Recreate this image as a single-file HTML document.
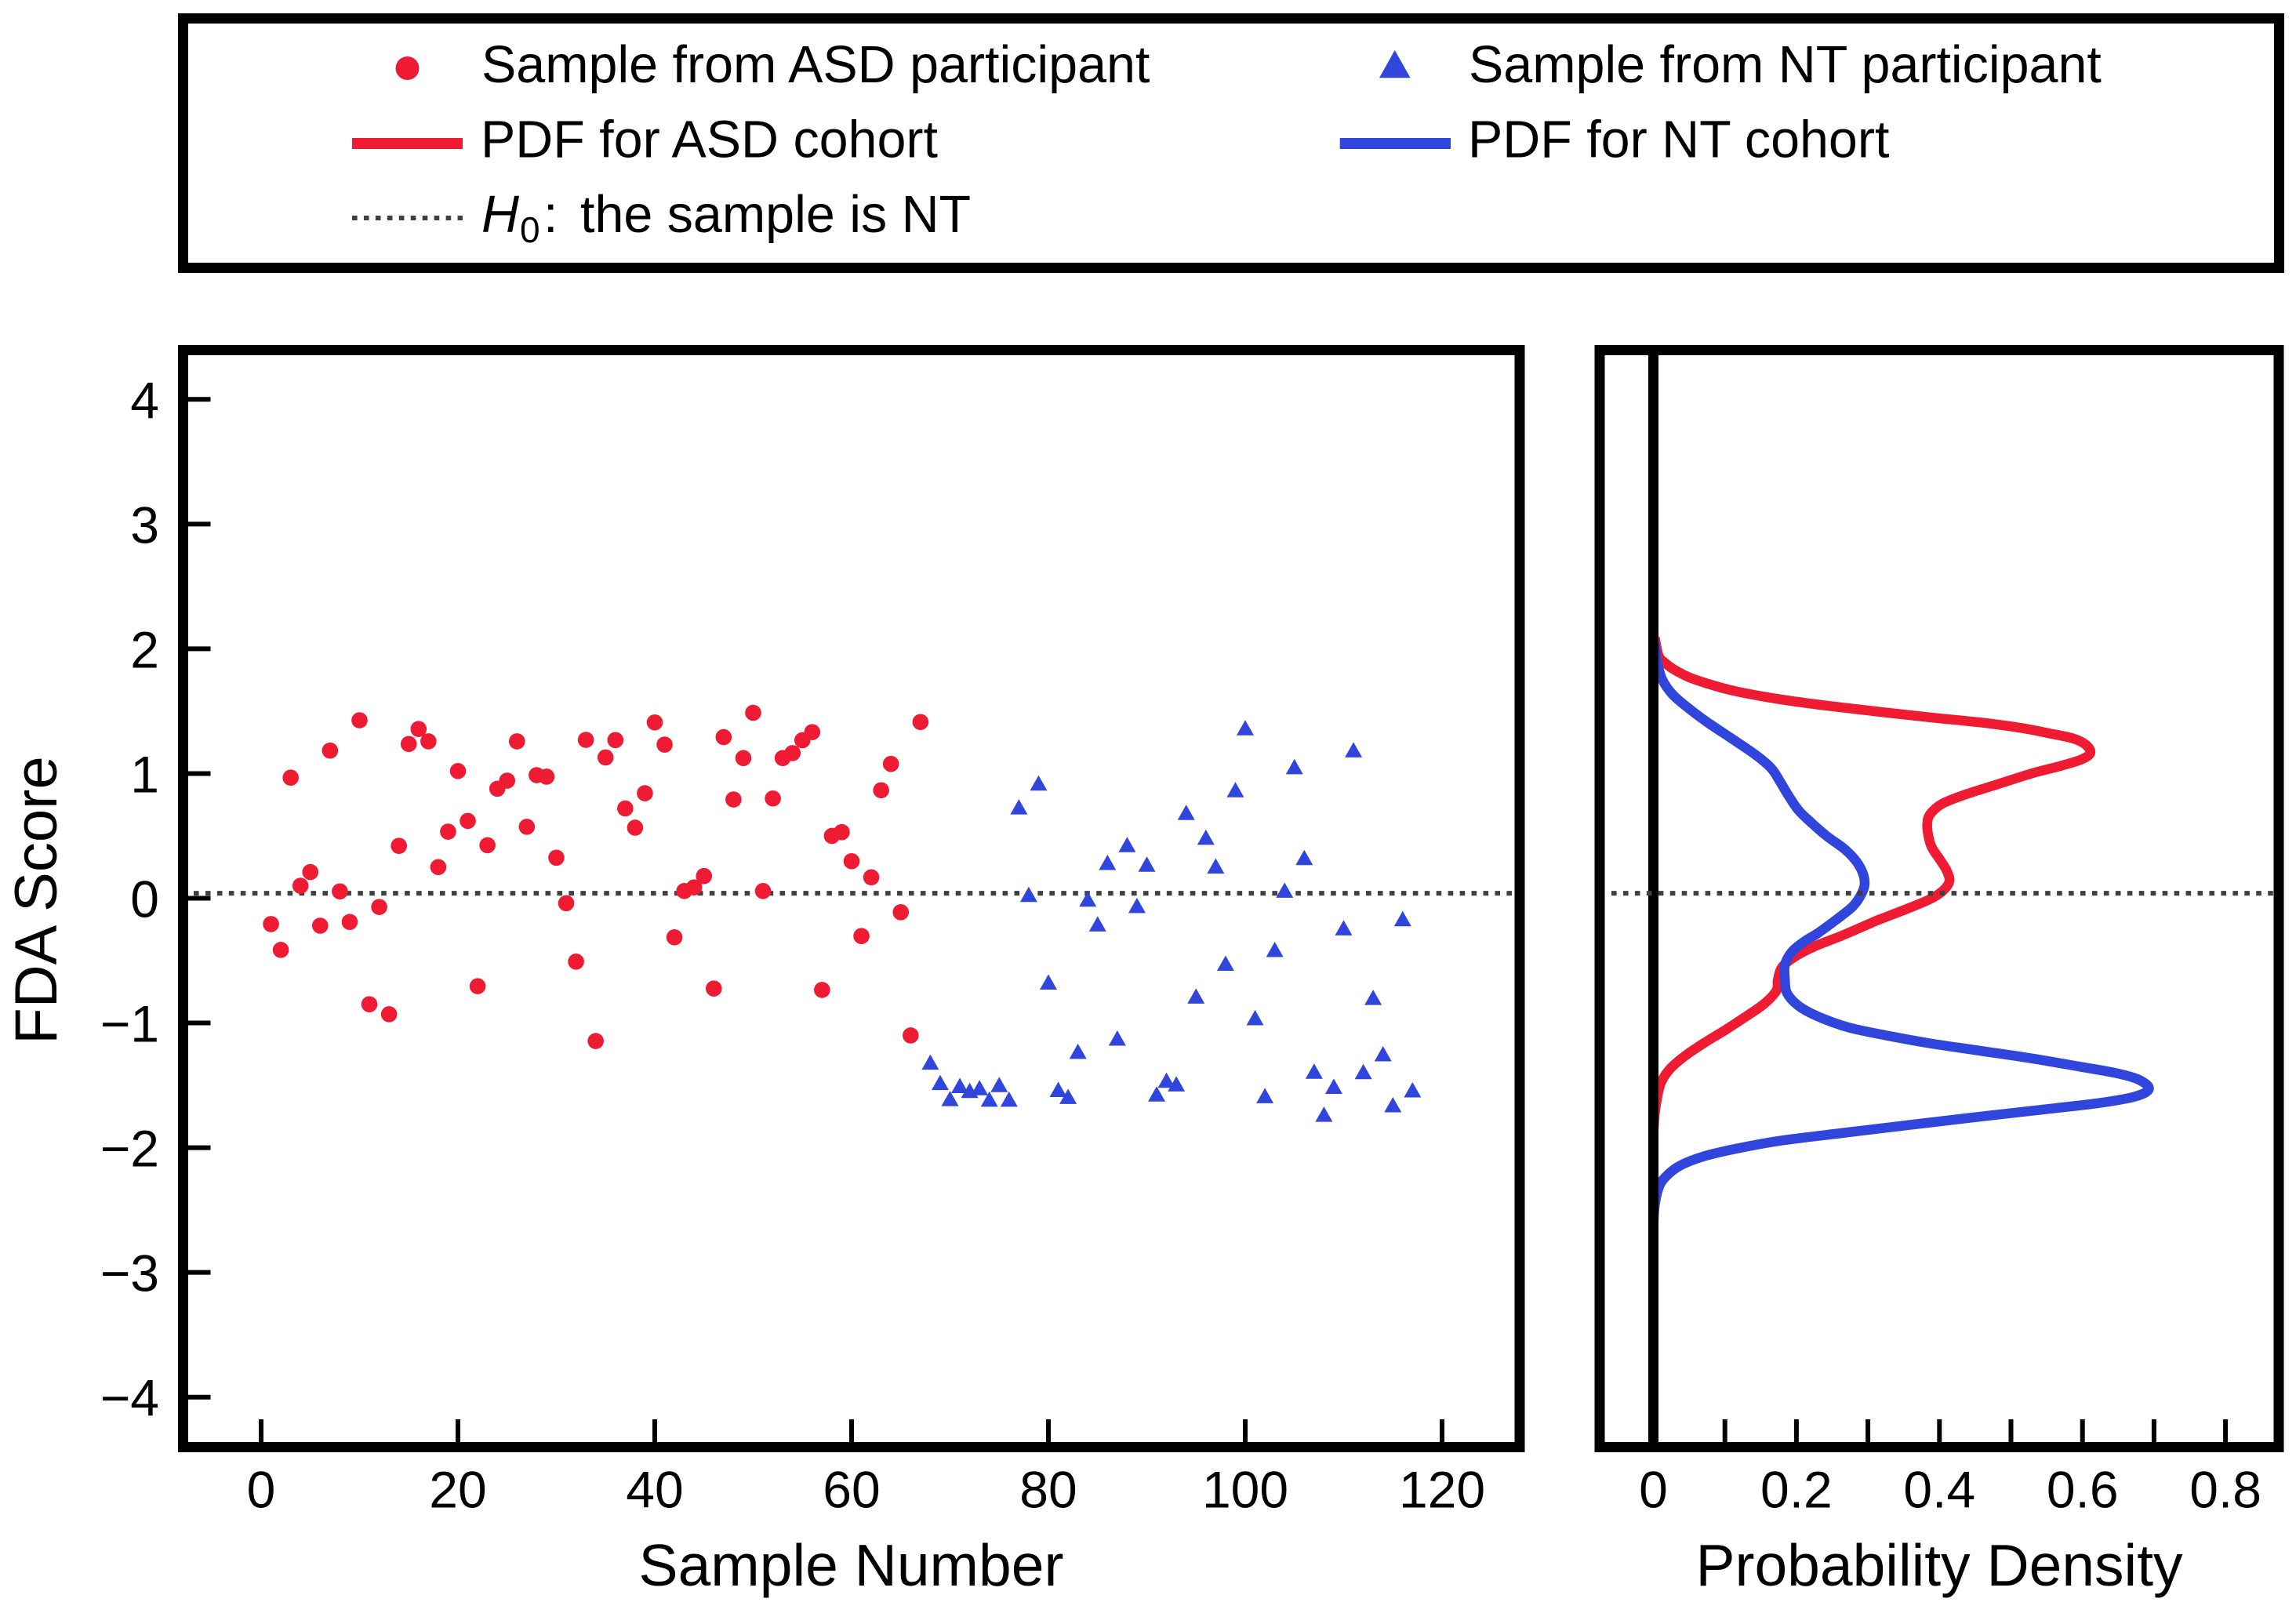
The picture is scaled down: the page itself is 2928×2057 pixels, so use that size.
<!DOCTYPE html>
<html lang="en">
<head>
<meta charset="utf-8">
<title>FDA Score and Probability Density</title>
<style>
html,body{margin:0;padding:0;background:#fff;}
svg{display:block;}
text{font-family:"Liberation Sans",Arial,sans-serif;fill:#000;}
.leg{font-size:66.4px;}
.tick{font-size:66px;}
.lab{font-size:75px;}
</style>
</head>
<body>
<svg id="chart" xmlns="http://www.w3.org/2000/svg" width="2928" height="2057" viewBox="0 0 2928 2057">
  <rect x="0" y="0" width="2928" height="2057" fill="#ffffff"/>

  <g>
    <rect x="233.5" y="23.5" width="2673" height="318" fill="none" stroke="#000" stroke-width="13"/>
    <circle cx="519.5" cy="87" r="15" fill="#ee1b33"/>
    <text class="leg" x="614" y="105">Sample from ASD participant</text>
    <path d="M1778.7 64 L1798.6 99.3 L1759 99.3 Z" fill="#2f45dc"/>
    <text class="leg" x="1873" y="105">Sample from NT participant</text>
    <rect x="449" y="176" width="141" height="14" fill="#ee1b33"/>
    <text class="leg" x="613" y="200.5">PDF for ASD cohort</text>
    <rect x="1708.7" y="176" width="141.3" height="14" fill="#2f45dc"/>
    <text class="leg" x="1872" y="200.5">PDF for NT cohort</text>
    <line x1="449" y1="278" x2="590" y2="278" stroke="#404040" stroke-width="6" stroke-dasharray="6.6 8.35"/>
    <text class="leg" y="296"><tspan x="614" font-style="italic">H</tspan><tspan x="663" y="309" font-size="46">0</tspan><tspan x="693" y="296">:</tspan><tspan x="740" y="296">the sample is NT</tspan></text>
  </g>

  <g id="scatter-panel"></g>
  <g id="density-panel"></g>

  <text class="lab" x="1085.5" y="2022" text-anchor="middle">Sample Number</text>
  <text class="lab" x="2473" y="2022" text-anchor="middle">Probability Density</text>
  <text class="lab" font-size="76" style="font-size:76px" transform="translate(72 1148) rotate(-90)" text-anchor="middle">FDA Score</text>
</svg>

<script>
// ---- chart data ----
const asdScores = [-0.207,-0.414,0.967,0.10,0.21,-0.22,1.184,0.055,-0.19,1.427,-0.85,-0.07,-0.93,0.42,1.237,1.357,1.258,0.25,0.534,1.02,0.62,-0.705,0.425,0.878,0.943,1.258,0.573,0.987,0.975,0.325,-0.04,-0.508,1.27,-1.145,1.129,1.268,0.72,0.566,0.842,1.41,1.232,-0.313,0.058,0.087,0.178,-0.724,1.292,0.792,1.124,1.487,0.058,0.80,1.124,1.164,1.267,1.332,-0.735,0.50,0.53,0.297,-0.303,0.168,0.866,1.077,-0.112,-1.10,1.413];
const ntScores = [-1.315,-1.478,-1.607,-1.503,-1.542,-1.52,-1.612,-1.495,-1.612,0.732,0.03,0.923,-0.673,-1.534,-1.59,-1.228,-0.008,-0.207,0.286,-1.122,0.429,-0.059,0.272,-1.57,-1.46,-1.489,0.687,-0.785,0.488,0.258,-0.522,0.869,1.366,-0.959,-1.584,-0.412,0.064,1.054,0.325,-1.388,-1.733,-1.509,-0.238,1.189,-1.391,-0.796,-1.248,-1.657,-0.165,-1.537];
const asdFirstSample = 1;
const ntFirstSample = 68;
const h0Score = 0.04;

const asdPdfScores = [2.088,1.942,1.889,1.837,1.774,1.722,1.669,1.617,1.575,1.533,1.491,1.449,1.407,1.365,1.323,1.281,1.229,1.166,1.114,1.062,0.999,0.915,0.831,0.758,0.674,0.600,0.517,0.412,0.307,0.223,0.139,0.066,-0.007,-0.091,-0.175,-0.217,-0.301,-0.385,-0.468,-0.552,-0.656,-0.741,-0.846,-0.950,-1.055,-1.160,-1.265,-1.370,-1.474,-1.579,-1.726,-1.894];
const asdPdfDensity = [0.002,0.0075,0.016,0.028,0.049,0.075,0.108,0.154,0.201,0.259,0.322,0.389,0.461,0.515,0.553,0.587,0.605,0.611,0.599,0.570,0.528,0.482,0.436,0.404,0.387,0.383,0.384,0.389,0.401,0.410,0.414,0.406,0.387,0.352,0.314,0.297,0.263,0.226,0.198,0.180,0.174,0.172,0.155,0.129,0.101,0.071,0.044,0.023,0.011,0.006,0.002,0];
const ntPdfScores = [2.047,1.900,1.753,1.627,1.502,1.397,1.271,1.145,1.041,0.936,0.831,0.705,0.600,0.496,0.391,0.286,0.181,0.097,0.014,-0.070,-0.175,-0.280,-0.343,-0.427,-0.531,-0.656,-0.762,-0.867,-0.950,-1.034,-1.097,-1.160,-1.223,-1.286,-1.349,-1.401,-1.453,-1.527,-1.589,-1.642,-1.694,-1.757,-1.820,-1.883,-1.946,-2.009,-2.072,-2.145,-2.229,-2.313,-2.460,-2.627];
const ntPdfDensity = [0.002,0.005,0.0125,0.028,0.054,0.079,0.112,0.144,0.165,0.177,0.188,0.203,0.222,0.243,0.268,0.285,0.294,0.295,0.289,0.278,0.255,0.230,0.212,0.194,0.184,0.184,0.187,0.204,0.231,0.272,0.323,0.383,0.457,0.531,0.595,0.646,0.678,0.693,0.674,0.623,0.545,0.448,0.355,0.263,0.175,0.115,0.069,0.037,0.018,0.008,0.002,0];

const sampleTicks = [0,20,40,60,80,100,120];
const scoreTicks = [4,3,2,1,0,-1,-2,-3,-4];
const densityTicks = [0.1,0.2,0.3,0.4,0.5,0.6,0.7,0.8];
const densityTickLabels = ["0","0.2","0.4","0.6","0.8"];
const densityLabelValues = [0,0.2,0.4,0.6,0.8];

// ---- axis functions ----
const NS = 'http://www.w3.org/2000/svg';
const RED = '#ee1b33';
const BLUE = '#2f45dc';
const xSample = v => 333.0 + 12.55 * v;
const yScore = v => 1145.5 - 159.05 * v;
const xDensity = v => 2108.5 + 912 * v;

function make(tag, parent, attrs, text) {
  const el = document.createElementNS(NS, tag);
  for (const k in attrs) el.setAttribute(k, attrs[k]);
  if (text !== undefined) el.textContent = text;
  parent.appendChild(el);
  return el;
}
function fmtMinus(v) { return String(v).replace('-', '\u2212'); }

function smoothPath(xs, ys) {
  let d = 'M' + xs[0].toFixed(2) + ' ' + ys[0].toFixed(2);
  for (let i = 0; i < xs.length - 1; i++) {
    const p0 = Math.max(i - 1, 0), p3 = Math.min(i + 2, xs.length - 1);
    const c1x = xs[i] + (xs[i + 1] - xs[p0]) / 6, c1y = ys[i] + (ys[i + 1] - ys[p0]) / 6;
    const c2x = xs[i + 1] - (xs[p3] - xs[i]) / 6, c2y = ys[i + 1] - (ys[p3] - ys[i]) / 6;
    d += 'C' + c1x.toFixed(2) + ' ' + c1y.toFixed(2) + ' ' + c2x.toFixed(2) + ' ' + c2y.toFixed(2) + ' ' + xs[i + 1].toFixed(2) + ' ' + ys[i + 1].toFixed(2);
  }
  return d;
}

// ---- scatter panel ----
const sp = document.getElementById('scatter-panel');

const h0Left = make('line', sp, {x1: 247, x2: 1931, y1: yScore(h0Score), y2: yScore(h0Score), stroke: '#404040', 'stroke-width': 6, 'stroke-dasharray': '6.6 8.35'});



asdScores.forEach((s, i) => {
  const c = make('circle', sp, {cx: xSample(asdFirstSample + i), cy: yScore(s), r: 10.3, fill: RED});
  
  
});
ntScores.forEach((s, i) => {
  const x = xSample(ntFirstSample + i), y = yScore(s);
  const t = make('path', sp, {d: 'M' + x + ' ' + (y - 10) + 'L' + (x + 11) + ' ' + (y + 9.5) + 'L' + (x - 11) + ' ' + (y + 9.5) + 'Z', fill: BLUE});
  
  
});

sampleTicks.forEach(v => {
  const m = make('line', sp, {x1: xSample(v), x2: xSample(v), y1: 1810, y2: 1840, stroke: '#000', 'stroke-width': 6});
  
  
  const l = make('text', sp, {class: 'tick', x: xSample(v), y: 1922.5, 'text-anchor': 'middle'}, String(v));
  
  
});
scoreTicks.forEach(v => {
  const m = make('line', sp, {x1: 239, x2: 268.5, y1: yScore(v), y2: yScore(v), stroke: '#000', 'stroke-width': 6});
  
  
  const l = make('text', sp, {class: 'tick', x: 203, y: yScore(v) + 24, 'text-anchor': 'end'}, fmtMinus(v));
  
  
});
const frameL = make('rect', sp, {x: 233.5, y: 446.5, width: 1704.5, height: 1399, fill: 'none', stroke: '#000', 'stroke-width': 13});



// ---- density panel ----
const dp = document.getElementById('density-panel');

const asdCurve = make('path', dp, {d: smoothPath(asdPdfDensity.map(xDensity), asdPdfScores.map(yScore)), fill: 'none', stroke: RED, 'stroke-width': 12.5, 'stroke-linejoin': 'round'});


const ntCurve = make('path', dp, {d: smoothPath(ntPdfDensity.map(xDensity), ntPdfScores.map(yScore)), fill: 'none', stroke: BLUE, 'stroke-width': 12.5, 'stroke-linejoin': 'round'});



const zeroAxis = make('line', dp, {x1: xDensity(0), x2: xDensity(0), y1: 446, y2: 1846, stroke: '#000', 'stroke-width': 13});



const h0Right = make('line', dp, {x1: 2055, x2: 2899, y1: yScore(h0Score), y2: yScore(h0Score), stroke: '#404040', 'stroke-width': 6, 'stroke-dasharray': '6.6 8.35'});



densityTicks.forEach(v => {
  const m = make('line', dp, {x1: xDensity(v), x2: xDensity(v), y1: 1810, y2: 1840, stroke: '#000', 'stroke-width': 6});
  
  
});
densityLabelValues.forEach((v, i) => {
  const l = make('text', dp, {class: 'tick', x: xDensity(v), y: 1922.5, 'text-anchor': 'middle'}, densityTickLabels[i]);
  
  
});
const frameR = make('rect', dp, {x: 2040, y: 446.5, width: 866, height: 1399, fill: 'none', stroke: '#000', 'stroke-width': 13});


</script>
</body>
</html>
